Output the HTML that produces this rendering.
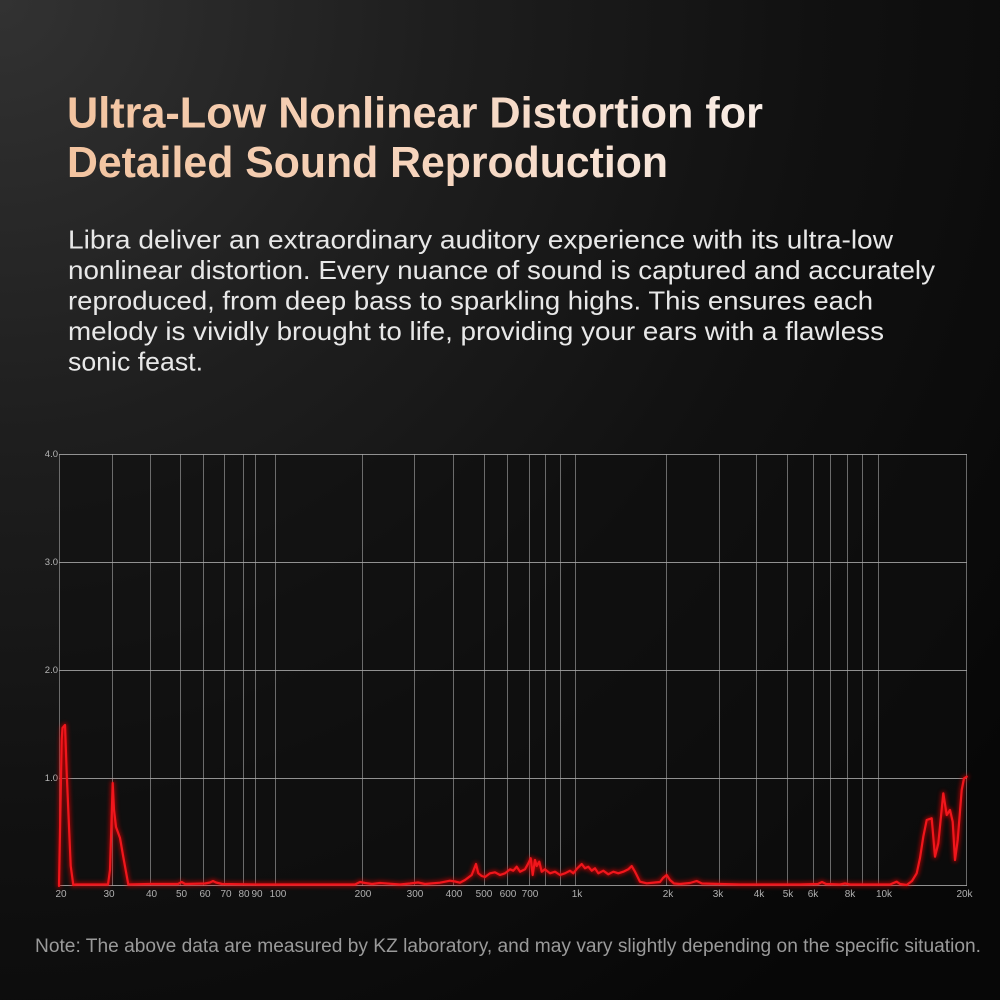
<!DOCTYPE html>
<html>
<head>
<meta charset="utf-8">
<style>
html,body{margin:0;padding:0;background:#0a0a0a;}
body{width:1000px;height:1000px;overflow:hidden;}
svg{display:block;}
</style>
</head>
<body>
<svg width="1000" height="1000" viewBox="0 0 1000 1000" xmlns="http://www.w3.org/2000/svg">
<defs>
<radialGradient id="bg" cx="0" cy="0" r="1250" gradientUnits="userSpaceOnUse">
<stop offset="0" stop-color="#323232"/>
<stop offset="0.35" stop-color="#1e1e1e"/>
<stop offset="0.65" stop-color="#111111"/>
<stop offset="1" stop-color="#070707"/>
</radialGradient>
<linearGradient id="tg" x1="67" y1="0" x2="763" y2="0" gradientUnits="userSpaceOnUse">
<stop offset="0" stop-color="#f3c4a0"/>
<stop offset="0.55" stop-color="#f6d6c0"/>
<stop offset="1" stop-color="#f8ede6"/>
</linearGradient>
<filter id="glow" x="-5%" y="-20%" width="110%" height="140%">
<feGaussianBlur stdDeviation="2"/>
</filter>
</defs>
<rect x="0" y="0" width="1000" height="1000" fill="url(#bg)"/>

<!-- Title -->
<g font-family="'Liberation Sans', sans-serif" font-weight="bold" font-size="44" fill="url(#tg)">
<text x="67" y="127.5" textLength="696" lengthAdjust="spacingAndGlyphs">Ultra-Low Nonlinear Distortion for</text>
<text x="67" y="177" textLength="601" lengthAdjust="spacingAndGlyphs">Detailed Sound Reproduction</text>
</g>

<!-- Paragraph -->
<g font-family="'Liberation Sans', sans-serif" font-size="26" fill="#e8e8e8">
<text x="68" y="248.5" textLength="825" lengthAdjust="spacingAndGlyphs">Libra deliver an extraordinary auditory experience with its ultra-low</text>
<text x="68" y="279" textLength="867" lengthAdjust="spacingAndGlyphs">nonlinear distortion. Every nuance of sound is captured and accurately</text>
<text x="68" y="309.5" textLength="805" lengthAdjust="spacingAndGlyphs">reproduced, from deep bass to sparkling highs. This ensures each</text>
<text x="68" y="340" textLength="816" lengthAdjust="spacingAndGlyphs">melody is vividly brought to life, providing your ears with a flawless</text>
<text x="68" y="370.5" textLength="135" lengthAdjust="spacingAndGlyphs">sonic feast.</text>
</g>

<!-- Chart background -->
<rect x="59" y="454" width="908" height="432" fill="#0f0f0f" opacity="0.6"/>

<!-- Vertical grid -->
<g stroke="#8a8a8a" stroke-width="1" opacity="0.75">
<line x1="59.5" y1="454" x2="59.5" y2="886"/>
<line x1="112.5" y1="454" x2="112.5" y2="886"/>
<line x1="150.5" y1="454" x2="150.5" y2="886"/>
<line x1="180.5" y1="454" x2="180.5" y2="886"/>
<line x1="203.5" y1="454" x2="203.5" y2="886"/>
<line x1="224.5" y1="454" x2="224.5" y2="886"/>
<line x1="243.5" y1="454" x2="243.5" y2="886"/>
<line x1="255.5" y1="454" x2="255.5" y2="886"/>
<line x1="275.5" y1="454" x2="275.5" y2="886"/>
<line x1="362.5" y1="454" x2="362.5" y2="886"/>
<line x1="414.5" y1="454" x2="414.5" y2="886"/>
<line x1="453.5" y1="454" x2="453.5" y2="886"/>
<line x1="484.5" y1="454" x2="484.5" y2="886"/>
<line x1="507.5" y1="454" x2="507.5" y2="886"/>
<line x1="529.5" y1="454" x2="529.5" y2="886"/>
<line x1="545.5" y1="454" x2="545.5" y2="886"/>
<line x1="560.5" y1="454" x2="560.5" y2="886"/>
<line x1="575.5" y1="454" x2="575.5" y2="886"/>
<line x1="666.5" y1="454" x2="666.5" y2="886"/>
<line x1="719.5" y1="454" x2="719.5" y2="886"/>
<line x1="756.5" y1="454" x2="756.5" y2="886"/>
<line x1="787.5" y1="454" x2="787.5" y2="886"/>
<line x1="813.5" y1="454" x2="813.5" y2="886"/>
<line x1="830.5" y1="454" x2="830.5" y2="886"/>
<line x1="847.5" y1="454" x2="847.5" y2="886"/>
<line x1="862.5" y1="454" x2="862.5" y2="886"/>
<line x1="878.5" y1="454" x2="878.5" y2="886"/>
<line x1="966.5" y1="454" x2="966.5" y2="886"/>
</g>
<!-- Horizontal grid -->
<g stroke="#a8a8a8" stroke-width="1" opacity="0.85">
<line x1="59" y1="454.5" x2="967" y2="454.5"/>
<line x1="59" y1="562.5" x2="967" y2="562.5"/>
<line x1="59" y1="670.5" x2="967" y2="670.5"/>
<line x1="59" y1="778.5" x2="967" y2="778.5"/>
<line x1="59" y1="885.5" x2="967" y2="885.5"/>
</g>

<!-- Y labels -->
<g font-family="'Liberation Sans', sans-serif" font-size="9.5" fill="#b5b5b5" text-anchor="end">
<text x="58" y="457">4.0</text>
<text x="58" y="565">3.0</text>
<text x="58" y="673">2.0</text>
<text x="58" y="781">1.0</text>
</g>
<!-- X labels -->
<g font-family="'Liberation Sans', sans-serif" font-size="10" fill="#b0b0b0" text-anchor="middle">
<text x="61" y="897">20</text>
<text x="109" y="897">30</text>
<text x="151.5" y="897">40</text>
<text x="181.5" y="897">50</text>
<text x="205" y="897">60</text>
<text x="226" y="897">70</text>
<text x="244" y="897">80</text>
<text x="257" y="897">90</text>
<text x="278" y="897">100</text>
<text x="363" y="897">200</text>
<text x="415" y="897">300</text>
<text x="454" y="897">400</text>
<text x="484" y="897">500</text>
<text x="508" y="897">600</text>
<text x="530" y="897">700</text>
<text x="577" y="897">1k</text>
<text x="668" y="897">2k</text>
<text x="718" y="897">3k</text>
<text x="759" y="897">4k</text>
<text x="788" y="897">5k</text>
<text x="813" y="897">6k</text>
<text x="850" y="897">8k</text>
<text x="884" y="897">10k</text>
<text x="964.5" y="897">20k</text>
</g>

<!-- Data curve -->
<g fill="none" stroke-linejoin="round" stroke-linecap="round">
<polyline id="curve" filter="url(#glow)" stroke="#d00000" stroke-width="4" opacity="0.8" points="59,886 61.7,740 62.5,728 65,725 66.7,773 70.7,866 73.3,885 76,884.5 108,884.5 110,870 112.7,783 114,810 116,827 120,838 123.3,857 128.3,884.5 150,884 165,884 178,884 181.7,882 185,884 205,883.5 210,882.5 213,881 216,882.5 222,884 260,884.5 300,884.5 355,884.5 360,882 365,883 372,884 380,883 400,884.5 410,883.5 418,882.5 425,884 440,882.7 450,880.7 455,881.5 460,882.7 465,880 471.7,875 476,864 478.3,873.3 481.7,876 485,877 490,873.3 495,872.3 500,875 505,873.3 510,869.3 513.3,870.7 516.7,866.7 520,871.7 525,869.3 528.3,863.3 530.7,858.3 532.7,875 535,860 536.7,866 539.3,861.7 541.7,871.7 545,869.3 550,873.3 555,871.7 560,875 565,873.3 570,870.7 573.3,873.3 577.3,868.3 581.7,864 585,868.3 588.3,866.7 591.7,870.7 595,868.3 598.3,873.3 603.3,870.7 608.3,874.3 613.3,871.7 618.3,873.3 623.3,871.7 628.3,869.3 631.7,866 635,871.7 640,881.7 646.7,883.3 655,882.5 660,882 663,878 666.7,875 670,880 674,883.5 680,884 690,883 696.7,881 702,883.5 720,884 740,884.5 800,884.5 818,884 822,882 826,884 840,884.5 845,883.5 850,884.5 890,884.5 896.7,881.7 900,884 906.7,885 912,881 916.7,873.3 920,858 923.3,836.7 926.7,820 931.7,818.3 935,856.7 938.3,843.3 943.3,793.3 946.7,815 950,810 952.7,821.7 955,860 957.7,840 961.7,790 964,778.3 966.7,776.7"/>
<polyline stroke="#f0161c" stroke-width="2.2" points="59,886 61.7,740 62.5,728 65,725 66.7,773 70.7,866 73.3,885 76,884.5 108,884.5 110,870 112.7,783 114,810 116,827 120,838 123.3,857 128.3,884.5 150,884 165,884 178,884 181.7,882 185,884 205,883.5 210,882.5 213,881 216,882.5 222,884 260,884.5 300,884.5 355,884.5 360,882 365,883 372,884 380,883 400,884.5 410,883.5 418,882.5 425,884 440,882.7 450,880.7 455,881.5 460,882.7 465,880 471.7,875 476,864 478.3,873.3 481.7,876 485,877 490,873.3 495,872.3 500,875 505,873.3 510,869.3 513.3,870.7 516.7,866.7 520,871.7 525,869.3 528.3,863.3 530.7,858.3 532.7,875 535,860 536.7,866 539.3,861.7 541.7,871.7 545,869.3 550,873.3 555,871.7 560,875 565,873.3 570,870.7 573.3,873.3 577.3,868.3 581.7,864 585,868.3 588.3,866.7 591.7,870.7 595,868.3 598.3,873.3 603.3,870.7 608.3,874.3 613.3,871.7 618.3,873.3 623.3,871.7 628.3,869.3 631.7,866 635,871.7 640,881.7 646.7,883.3 655,882.5 660,882 663,878 666.7,875 670,880 674,883.5 680,884 690,883 696.7,881 702,883.5 720,884 740,884.5 800,884.5 818,884 822,882 826,884 840,884.5 845,883.5 850,884.5 890,884.5 896.7,881.7 900,884 906.7,885 912,881 916.7,873.3 920,858 923.3,836.7 926.7,820 931.7,818.3 935,856.7 938.3,843.3 943.3,793.3 946.7,815 950,810 952.7,821.7 955,860 957.7,840 961.7,790 964,778.3 966.7,776.7"/>
</g>

<!-- Footer note -->
<text x="35" y="952" font-family="'Liberation Sans', sans-serif" font-size="19" fill="#9a9a9a" textLength="946" lengthAdjust="spacingAndGlyphs">Note: The above data are measured by KZ laboratory, and may vary slightly depending on the specific situation.</text>
</svg>
</body>
</html>
